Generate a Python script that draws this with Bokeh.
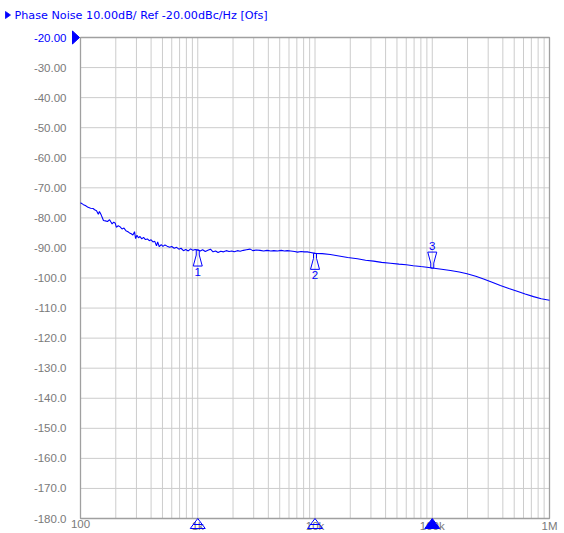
import math
from bokeh.plotting import figure
from bokeh.embed import file_html
from bokeh.resources import INLINE
from bokeh.core.properties import value

# ---------------- data ----------------
freq_hz = [100, 106, 110, 116, 122, 128, 132, 137, 142, 145, 150, 157, 163, 170, 177,
           182, 186, 192, 198, 202, 210, 218, 226, 235, 244, 254, 262, 271, 280, 289,
           295, 303, 312, 322, 333, 345, 358, 372, 386, 400, 415, 430, 445, 455, 470,
           488, 505, 525, 548, 575, 600, 630, 660, 690, 720, 755, 790, 830, 870, 910,
           950, 1000, 1050, 1100, 1160, 1220, 1283, 1350, 1420, 1490, 1570, 1660, 1750,
           1850, 1950, 2050, 2180, 2300, 2450, 2600, 2800, 2950, 3150, 3400, 3650, 3900,
           4200, 4450, 4800, 5150, 5500, 5800, 6200, 6700, 7100, 7600, 8100, 8600, 9200,
           10000, 11500, 13500, 16000, 19000, 23000, 27000, 31600, 37000, 44000, 52000,
           60000, 69000, 80000, 90000, 100000, 120000, 143000, 170000, 198000, 235000,
           274000, 320000, 381000, 450000, 530000, 620000, 731000, 850000, 1000000]
noise_dbc = [-75.0, -75.6, -75.9, -76.5, -76.8, -76.9, -77.3, -77.6, -78.8, -77.9, -79.0,
             -80.9, -81.0, -81.2, -80.6, -81.4, -82.0, -81.4, -81.8, -83.1, -82.6, -83.0,
             -83.7, -83.4, -84.3, -84.6, -85.0, -85.3, -85.7, -84.6, -86.9, -85.8, -86.6,
             -86.2, -87.0, -86.5, -87.2, -87.0, -87.6, -87.3, -88.0, -87.8, -89.3, -88.0,
             -89.6, -88.9, -89.5, -89.0, -89.4, -89.8, -89.5, -90.1, -89.8, -90.4, -90.1,
             -90.9, -90.5, -91.0, -90.3, -90.8, -90.5, -90.7, -91.0, -90.6, -91.2, -90.8,
             -90.4, -91.3, -91.0, -91.5, -91.1, -91.3, -90.9, -91.2, -91.0, -91.3, -90.9,
             -91.1, -90.8, -90.6, -90.4, -90.9, -90.7, -90.8, -91.0, -90.8, -91.0, -90.9,
             -91.0, -90.8, -91.0, -90.9, -91.0, -91.2, -91.4, -91.2, -91.3, -91.3, -91.5,
             -91.8, -91.9, -92.2, -92.7, -93.2, -93.6, -94.1, -94.4, -94.8, -95.1, -95.4,
             -95.6, -95.9, -96.2, -96.4, -96.7, -97.1, -97.5, -98.0, -98.6, -99.4, -100.3,
             -101.3, -102.5, -103.5, -104.4, -105.3, -106.2, -106.9, -107.4]

marker_freq = [1000, 10000, 100000]
marker_val = [-90.7, -91.8, -96.7]
marker_names = ["1", "2", "3"]
marker_below = [True, True, False]
marker_active = [False, False, True]

y_ticks = [-180, -170, -160, -150, -140, -130, -120, -110, -100, -90, -80, -70, -60, -50, -40, -30, -20]
y_tick_labels = ["-180.0", "-170.0", "-160.0", "-150.0", "-140.0", "-130.0", "-120.0", "-110.0",
                 "-100.0", "-90.00", "-80.00", "-70.00", "-60.00", "-50.00", "-40.00", "-30.00", "-20.00"]
x_ticks = [100, 1000, 10000, 100000, 1000000]
x_tick_labels = ["100", "1k", "10k", "100k", "1M"]
x_minor_mult = [2, 3, 4, 5, 6, 7, 8, 9]
ref_level = -20
title_text = "Phase Noise 10.00dB/ Ref -20.00dBc/Hz [Ofs]"

# ---------------- style / layout ----------------
BLUE = "#0000ff"
GRAY_TXT = "#7a7a7a"
GRID = "#cccccc"
FRAME = "#a0a0a0"
FONT = "Liberation Sans"
FS = "11.5px"
TITLE_FONT = "DejaVu Sans"
TITLE_FS = "11.2px"
W, H = 564, 533
PX0, PX1, PY0, PY1 = 80, 549, 37, 518      # chart area in canvas pixels
XMIN, XMAX, YMIN, YMAX = 100, 1e6, -180, -20
DEC_PX = math.log10(XMAX / XMIN) / (PX1 - PX0)   # decades per pixel
DB_PX = (YMAX - YMIN) / (PY1 - PY0)              # dB per pixel

x_start = XMIN * 10 ** (-PX0 * DEC_PX)
x_end = XMAX * 10 ** ((W - PX1) * DEC_PX)
y_start = YMIN - (H - PY1) * DB_PX
y_end = YMAX + PY0 * DB_PX

p = figure(width=W, height=H, x_axis_type="log", x_range=(x_start, x_end), y_range=(y_start, y_end),
           x_axis_location=None, y_axis_location=None,
           output_backend="svg", toolbar_location=None,
           min_border=0)
p.outline_line_color = None
p.background_fill_color = "white"
p.border_fill_color = "white"
p.xgrid.visible = False
p.ygrid.visible = False


def xo(f, px):
    return f * 10 ** (px * DEC_PX)


def yo(v, px):
    return v + px * DB_PX


# grid
vlines = sorted(x_ticks + [m * d for d in x_ticks[:-1] for m in x_minor_mult])
p.segment(x0=vlines, y0=[YMIN] * len(vlines), x1=vlines, y1=[YMAX] * len(vlines),
          line_color=GRID, line_width=1)
p.segment(x0=[XMIN] * len(y_ticks), y0=y_ticks, x1=[XMAX] * len(y_ticks), y1=y_ticks,
          line_color=GRID, line_width=1)
p.quad(left=[XMIN], right=[XMAX], bottom=[YMIN], top=[YMAX], fill_color=None,
       line_color=FRAME, line_width=1.3)

# y tick labels
p.text(x=[XMIN] * len(y_ticks), y=y_ticks, text=y_tick_labels, x_offset=-14,
       text_align="right", text_baseline="middle", text_font=value(FONT), text_font_size=FS,
       text_color=[BLUE if t == ref_level else GRAY_TXT for t in y_ticks])

# x tick labels
p.text(x=x_ticks, y=[yo(YMIN, -1)] * len(x_ticks), text=x_tick_labels,
       text_align="center", text_baseline="top", text_font=value(FONT), text_font_size=FS,
       text_color=GRAY_TXT)

# reference level arrow
p.patch(x=[xo(XMIN, -8), xo(XMIN, -1), xo(XMIN, -8)],
        y=[yo(ref_level, 6.5), ref_level, yo(ref_level, -6.5)],
        fill_color=BLUE, line_color=BLUE, line_width=1)

# title with its small arrow
p.patch(x=[xo(XMIN, -75), xo(XMIN, -70), xo(XMIN, -75)],
        y=[yo(YMAX, 26), yo(YMAX, 22.5), yo(YMAX, 19)],
        fill_color=BLUE, line_color=BLUE, line_width=0.8)
p.text(x=[xo(XMIN, -66)], y=[yo(YMAX, 22)], text=[title_text], text_align="left",
       text_baseline="middle", text_font=value(TITLE_FONT), text_font_size=TITLE_FS, text_color=BLUE)

# trace
p.line(freq_hz, noise_dbc, line_color=BLUE, line_width=1.1)

# markers on trace
shape = [(-1.5, 0), (1.5, 0), (1.5, 5), (4.5, 16), (-4.5, 16), (-1.5, 5)]
mxs, mys, lx, ly = [], [], [], []
for f, v, below in zip(marker_freq, marker_val, marker_below):
    sgn = -1 if below else 1
    mxs.append([xo(f, dx) for dx, dy in shape])
    mys.append([yo(v, sgn * dy) for dx, dy in shape])
    lx.append(f)
    ly.append(yo(v, sgn * 22))
p.patches(mxs, mys, fill_color=None, line_color=BLUE, line_width=1)
p.text(lx, ly, text=marker_names, text_align="center", text_baseline="middle",
       text_font=value(FONT), text_font_size=FS, text_color=BLUE)

# markers on the frequency axis
bxs = [[f, xo(f, 7.5), xo(f, -7.5)] for f in marker_freq]
bys = [[YMIN, yo(YMIN, -10), yo(YMIN, -10)] for f in marker_freq]
p.patches(bxs, bys, fill_color=BLUE, fill_alpha=[1 if a else 0 for a in marker_active],
          line_color=BLUE, line_width=1)
p.segment(x0=[xo(f, -4.5) for f in marker_freq], y0=[yo(YMIN, -6)] * 3,
          x1=[xo(f, 4.5) for f in marker_freq], y1=[yo(YMIN, -6)] * 3,
          line_color=BLUE, line_width=1)

open("out.html", "w").write(file_html(p, INLINE))
